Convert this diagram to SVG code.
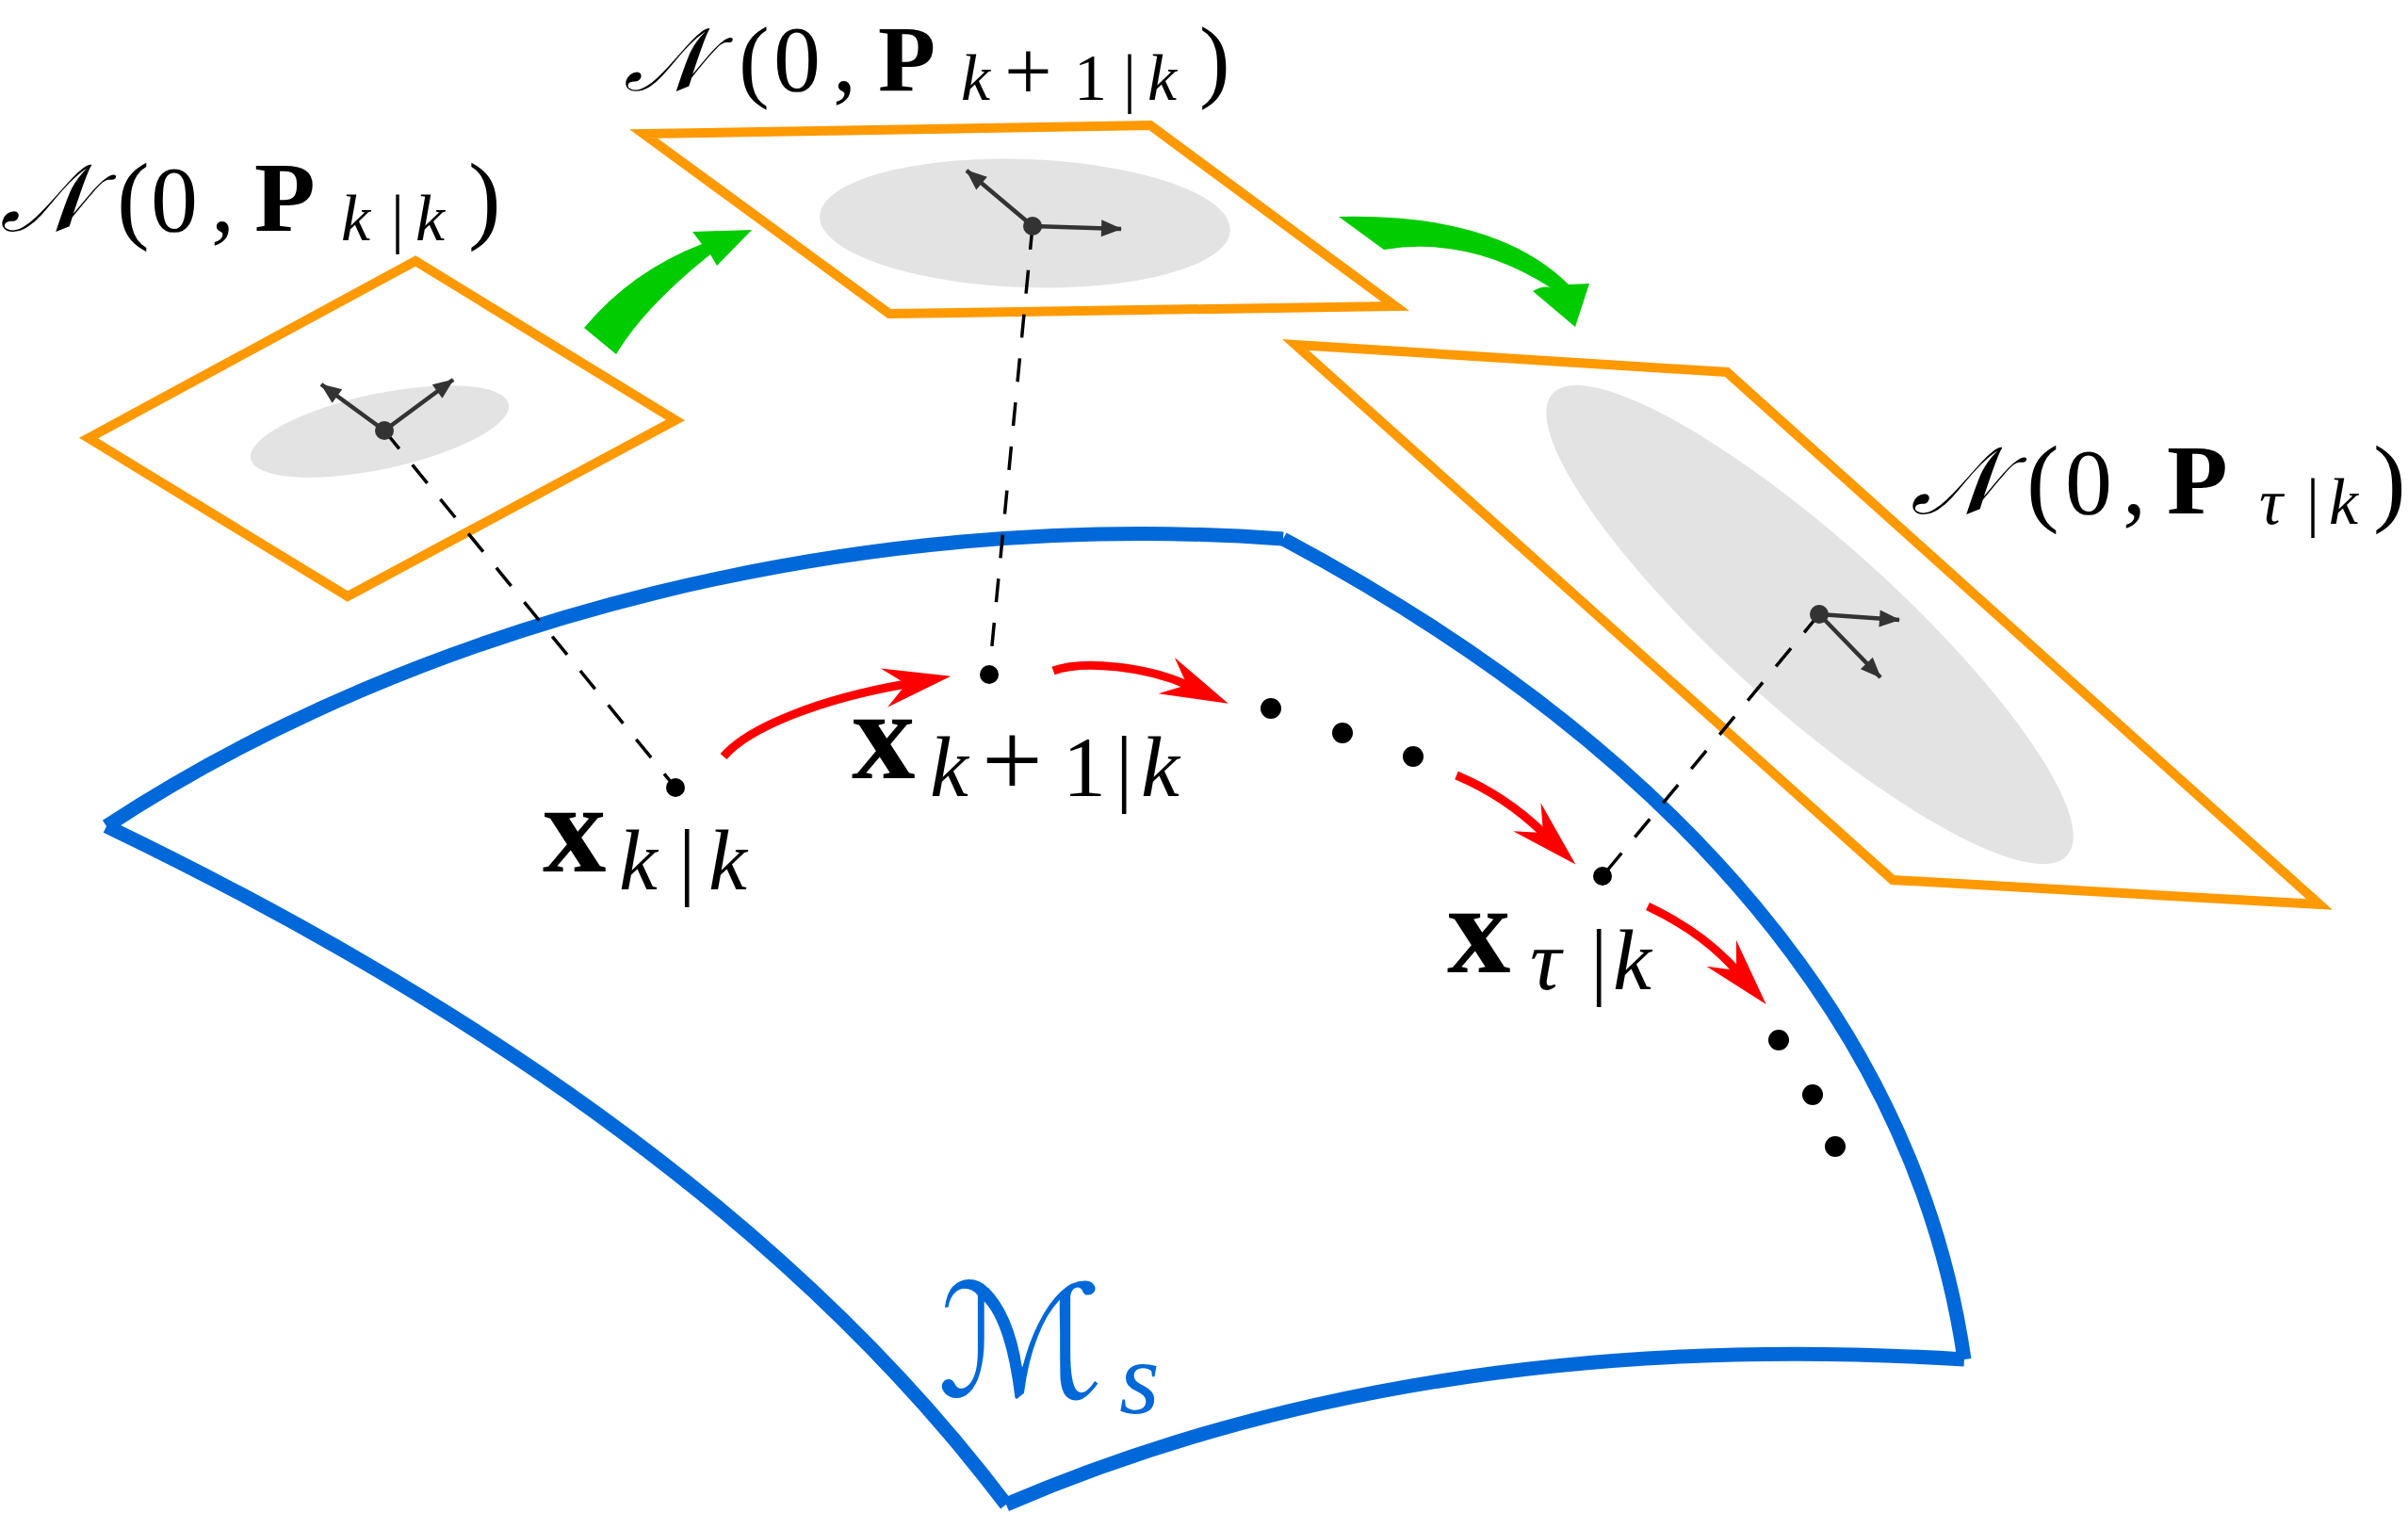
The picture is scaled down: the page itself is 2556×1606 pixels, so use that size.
<svg xmlns="http://www.w3.org/2000/svg" width="2556" height="1606" viewBox="0 0 2556 1606">
<style>
.plane{fill:none;stroke:#FF9900;stroke-width:10;stroke-linejoin:miter}
.blob{fill:#E3E3E3}
.edge{fill:none;stroke:#0068D9;stroke-width:15;stroke-linecap:butt}
.dash{fill:none;stroke:#000;stroke-width:3.5;stroke-dasharray:25 22}
.red{fill:none;stroke:#FF0000;stroke-width:9}
.axis{fill:none;stroke:#333;stroke-width:4.5}
.green{fill:#00CC00}
.pt{fill:#000}
.cpt{fill:#333}
.m{font-size:100px}
.par{font-size:104px}
.par2{font-size:98px}
.scr{font-size:100px;font-style:italic}
.scr2{font-size:94px;font-style:italic}
.bf{font-weight:bold;font-size:106px}
.bf2{font-weight:bold;font-size:100px}
.s{font-size:70px;font-style:italic}
.sv{font-size:70px;font-style:normal}
.pl{font-size:90px;font-style:normal}
.xb{font-size:135px;font-weight:bold}
.xs{font-size:92px;font-style:italic}
.xv{font-size:92px;font-style:normal}
.xpl{font-size:115px;font-style:normal}
</style>
<defs>
<marker id="redhead" markerUnits="userSpaceOnUse" viewBox="0 -24 80 48" markerWidth="80" markerHeight="48" refX="24" refY="0" orient="auto" overflow="visible">
<path d="M0,-21 L72,0 L0,21 L24,0 Z" fill="#FF0000"/>
</marker>
<marker id="darkhead" markerUnits="userSpaceOnUse" viewBox="0 0 22 18" markerWidth="22" markerHeight="18" refX="21" refY="9" orient="auto" overflow="visible">
<path d="M0,0 L22,9 L0,18 Z" fill="#333"/>
</marker>
</defs>

<g id="manifold">
<path class="edge" d="M113,877 C447,657 913,539 1362,572"/>
<path class="edge" d="M1362,572 C1785,798 2035,1097 2085,1443"/>
<path class="edge" d="M2085,1443 C1736,1421 1390,1459 1068,1597"/>
<path class="edge" d="M1068,1597 Q758,1187 113,877"/>
</g>

<g id="plane-k">
<polygon class="plane" points="441,277 717,446 369,633 94,465"/>
<ellipse class="blob" cx="403" cy="458" rx="140" ry="40" transform="rotate(-12 403 458)"/>
</g>
<g id="plane-k1">
<polygon class="plane" points="683,142 1221,133 1481,325 944,333"/>
<ellipse class="blob" cx="1088" cy="237" rx="218" ry="68" transform="rotate(2 1088 237)"/>
</g>
<g id="plane-tau">
<polygon class="plane" points="1375,366 1833,395 2462,960 2009,934"/>
<ellipse class="blob" cx="1921" cy="663" rx="367" ry="90" transform="rotate(41.9 1921 663)"/>
</g>

<g id="connectors">
<line class="dash" x1="408" y1="457" x2="717" y2="836"/>
<line class="dash" x1="1096" y1="240" x2="1050" y2="716"/>
<line class="dash" x1="1931" y1="652" x2="1701" y2="930"/>
<line class="axis" x1="408" y1="457" x2="341" y2="408" marker-end="url(#darkhead)"/>
<line class="axis" x1="408" y1="457" x2="481" y2="403" marker-end="url(#darkhead)"/>
<line class="axis" x1="1096" y1="240" x2="1026" y2="181" marker-end="url(#darkhead)"/>
<line class="axis" x1="1096" y1="240" x2="1190" y2="243" marker-end="url(#darkhead)"/>
<line class="axis" x1="1931" y1="652" x2="2016" y2="658" marker-end="url(#darkhead)"/>
<line class="axis" x1="1931" y1="652" x2="1996" y2="719" marker-end="url(#darkhead)"/>
<path class="red" d="M768,803 C795,772 870,742 962,726" marker-end="url(#redhead)"/>
<path class="red" d="M1118,712 C1150,700 1218,708 1260,727" marker-end="url(#redhead)"/>
<path class="red" d="M1546,823 Q1598,845 1638,884" marker-end="url(#redhead)"/>
<path class="red" d="M1749,962 Q1808,990 1843,1030" marker-end="url(#redhead)"/>
<path class="green" d="M620,348 Q670,288 745,259 L735,246 L798,244 L761,282 L754,270 Q684,326 654,376 Z"/>
<path class="green" d="M1421,230 Q1588,226 1665,302 L1687,301 L1672,347 L1627,309 Q1640,302 1647,306 Q1560,250 1469,265 Z"/>
</g>

<g id="centers">
<circle class="cpt" cx="408" cy="457" r="10"/>
<circle class="cpt" cx="1096" cy="240" r="10"/>
<circle class="cpt" cx="1931" cy="652" r="10"/>
</g>

<g id="state-k"><circle class="pt" cx="717" cy="836" r="10"/></g>
<g id="state-k1"><circle class="pt" cx="1050" cy="716" r="10"/></g>
<g id="state-tau"><circle class="pt" cx="1701" cy="930" r="10"/></g>
<g id="ellipsis-1">
<circle class="pt" cx="1349" cy="752" r="11"/>
<circle class="pt" cx="1425" cy="778" r="11"/>
<circle class="pt" cx="1500" cy="803" r="11"/>
</g>
<g id="ellipsis-2">
<circle class="pt" cx="1888" cy="1104" r="11"/>
<circle class="pt" cx="1924" cy="1162" r="11"/>
<circle class="pt" cx="1948" cy="1217" r="11"/>
</g>

<g id="label-N-kk">
<text class="m" y="245" font-family="'Liberation Serif', 'DejaVu Serif', serif" fill="#000"><tspan class="scr" x="0" font-family="'DejaVu Serif', 'DejaVu Sans', serif">𝒩</tspan><tspan class="par" x="124">(</tspan><tspan x="160">0</tspan><tspan x="224">,</tspan><tspan class="bf" x="270">P</tspan><tspan class="s" x="362" y="255">k</tspan><tspan class="sv" x="415">|</tspan><tspan class="s" x="441">k</tspan><tspan class="par" x="497" y="245">)</tspan></text>
</g>
<g id="label-N-k1k">
<text class="m" y="96" font-family="'Liberation Serif', 'DejaVu Serif', serif" fill="#000"><tspan class="scr2" x="662" font-family="'DejaVu Serif', 'DejaVu Sans', serif">𝒩</tspan><tspan class="par2" x="784">(</tspan><tspan x="821">0</tspan><tspan x="884">,</tspan><tspan class="bf2" x="932">P</tspan><tspan class="s" x="1020" y="106">k</tspan><tspan class="pl" x="1066">+</tspan><tspan class="sv" x="1140">1</tspan><tspan class="sv" x="1192">|</tspan><tspan class="s" x="1218">k</tspan><tspan class="par2" x="1273" y="96">)</tspan></text>
</g>
<g id="label-N-tk">
<text class="m" y="545" font-family="'Liberation Serif', 'DejaVu Serif', serif" fill="#000"><tspan class="scr" x="2028" font-family="'DejaVu Serif', 'DejaVu Sans', serif">𝒩</tspan><tspan class="par" x="2151">(</tspan><tspan x="2192">0</tspan><tspan x="2253">,</tspan><tspan class="bf" x="2300">P</tspan><tspan class="s" x="2398" y="556">τ</tspan><tspan class="sv" x="2448">|</tspan><tspan class="s" x="2472">k</tspan><tspan class="par" x="2519" y="545">)</tspan></text>
</g>
<g id="label-x-kk">
<text font-family="'Liberation Serif', 'DejaVu Serif', serif" fill="#000"><tspan class="xb" x="576" y="925">x</tspan><tspan class="xs" x="657" y="944">k</tspan><tspan class="xv" x="720">|</tspan><tspan class="xs" x="752">k</tspan></text>
</g>
<g id="label-x-k1k">
<text font-family="'Liberation Serif', 'DejaVu Serif', serif" fill="#000"><tspan class="xb" x="904" y="826">x</tspan><tspan class="xs" x="987" y="845">k</tspan><tspan class="xpl" x="1042">+</tspan><tspan class="xv" x="1128">1</tspan><tspan class="xv" x="1184">|</tspan><tspan class="xs" x="1211">k</tspan></text>
</g>
<g id="label-x-tk">
<text font-family="'Liberation Serif', 'DejaVu Serif', serif" fill="#000"><tspan class="xb" x="1536" y="1032">x</tspan><tspan class="xs" x="1624" y="1050">τ</tspan><tspan class="xv" x="1688">|</tspan><tspan class="xs" x="1712">k</tspan></text>
</g>
<g id="label-M">
<text font-family="'Liberation Serif', 'DejaVu Serif', serif" fill="#0068D9"><tspan x="995" y="1482" font-family="'DejaVu Serif', 'DejaVu Sans', serif" font-size="165">ℳ</tspan><tspan x="1188" y="1500" font-size="110" font-style="italic">s</tspan></text>
</g>
</svg>
